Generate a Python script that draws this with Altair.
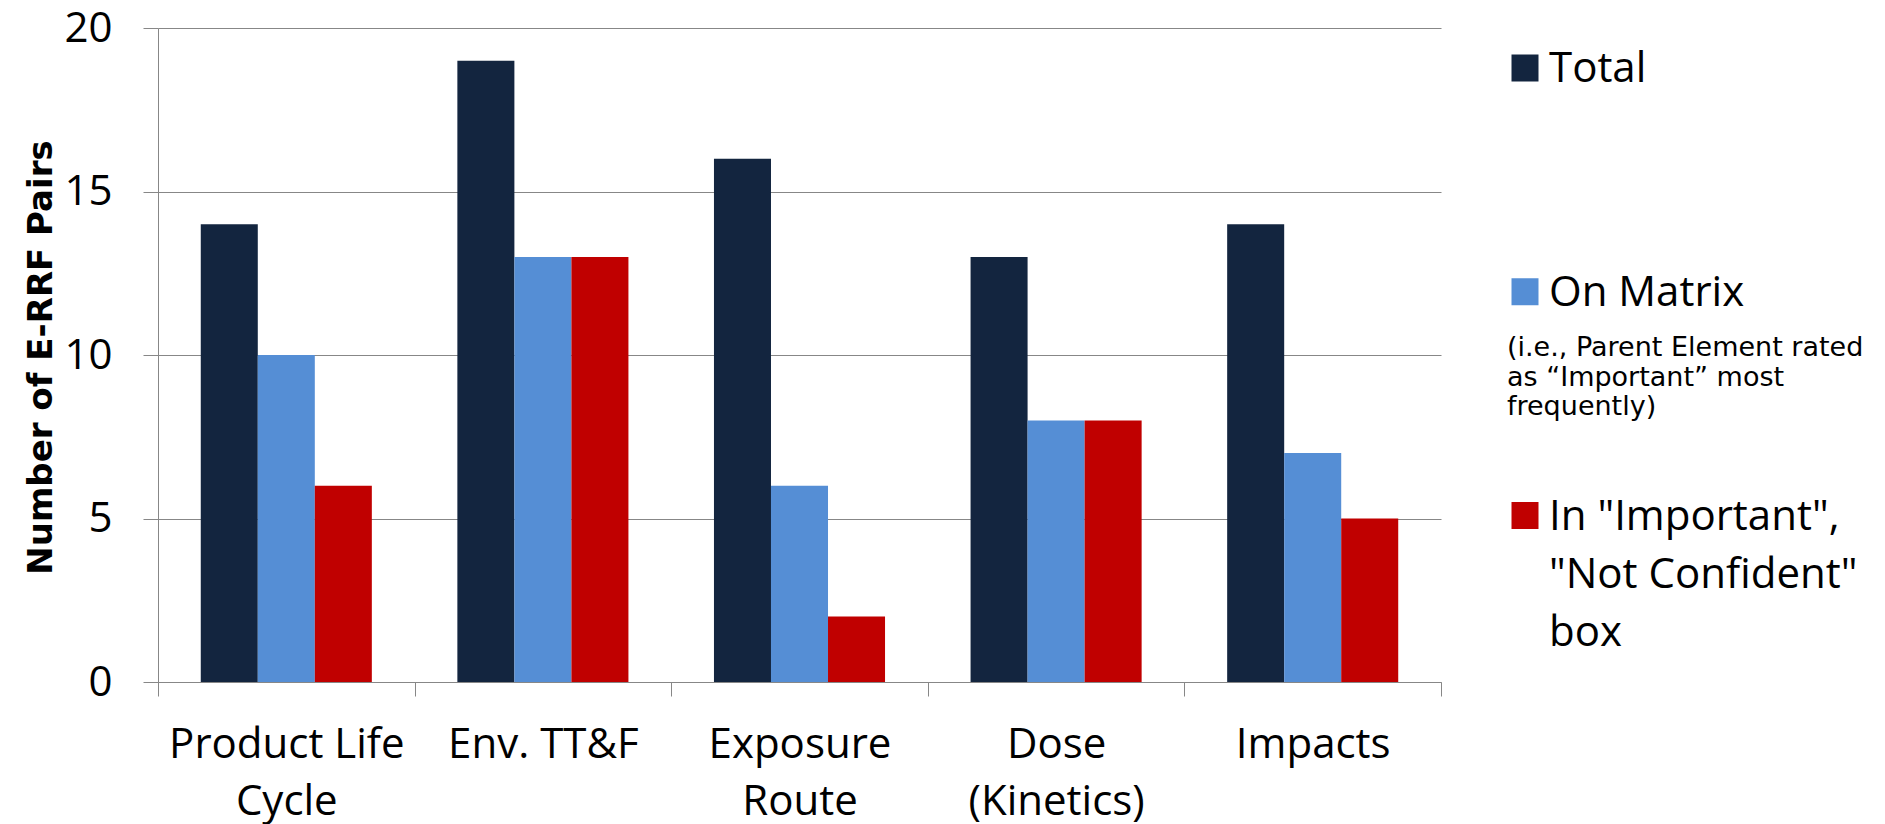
import altair as alt
import pandas as pd

# ---- data ----
categories = ["Product Life|Cycle", "Env. TT&F", "Exposure|Route", "Dose|(Kinetics)", "Impacts"]
series = ["Total", "On Matrix", "In Important"]
total = [14, 19, 16, 13, 14]
on_matrix = [10, 13, 6, 8, 7]
important = [6, 13, 2, 8, 5]
colors = ["#13253F", "#558ED5", "#C00000"]
legend_labels = ["Total", "On Matrix", 'In "Important",|"Not Confident"|box']
note_text = ["(i.e., Parent Element rated|as \u201cImportant\u201d most|frequently)"]
y_ticks = [0, 5, 10, 15, 20]

rows = []
for vals, s in zip([total, on_matrix, important], series):
    for c, v in zip(categories, vals):
        rows.append({"category": c, "series": s, "value": v})
df = pd.DataFrame(rows)
legend_df = pd.DataFrame({"series": series, "label": legend_labels})
note_df = pd.DataFrame({"note": note_text})

GRID = "#878787"
color_scale = alt.Scale(domain=series, range=colors)

bars = alt.Chart(df).mark_bar().encode(
    x=alt.X(
        "category:N",
        sort=categories,
        scale=alt.Scale(paddingInner=0, paddingOuter=0),
        axis=alt.Axis(
            title=None,
            labelExpr="split(datum.label, '|')",
            labelFont="Open Sans",
            labelFontSize=42,
            labelColor="#000000",
            labelAngle=0,
            labelAlign="center",
            labelBaseline="top",
            labelLineHeight=57,
            labelPadding=28,
            labelLimit=0,
            tickBand="extent",
            tickSize=14,
            tickColor=GRID,
            domainColor=GRID,
            grid=False,
        ),
    ),
    xOffset=alt.XOffset(
        "series:N", sort=series, scale=alt.Scale(paddingInner=0, paddingOuter=0.75)
    ),
    y=alt.Y(
        "value:Q",
        scale=alt.Scale(domain=[0, 20], nice=False),
        axis=alt.Axis(
            title="Number of E-RRF Pairs",
            titleFont="DejaVu Sans",
            titleFontWeight="bold",
            titleFontSize=34,
            titleColor="#000000",
            titleAngle=270,
            titleAlign="center",
            titleBaseline="alphabetic",
            titleX=-107,
            titleY=329,
            values=y_ticks,
            labelFont="Open Sans",
            labelFontSize=42,
            labelColor="#000000",
            labelPadding=31,
            tickSize=15,
            tickColor=GRID,
            domainColor=GRID,
            gridColor=GRID,
            gridWidth=1,
        ),
    ),
    color=alt.Color("series:N", scale=color_scale, legend=None),
)

legend_y = alt.Y(
    "series:N",
    sort=series,
    scale=alt.Scale(type="point", domain=series, range=[40, 487.5], padding=0),
    axis=None,
)

legend_squares = alt.Chart(legend_df).mark_square(size=729, opacity=1).encode(
    x=alt.value(1367),
    y=legend_y,
    color=alt.Color("series:N", scale=color_scale, legend=None),
)

legend_text = alt.Chart(legend_df).mark_text(
    align="left",
    baseline="top",
    dy=-19,
    font="Open Sans",
    fontSize=42,
    lineBreak="|",
    lineHeight=58,
    color="#000000",
).encode(
    x=alt.value(1391),
    y=legend_y,
    text="label:N",
)

note = alt.Chart(note_df).mark_text(
    align="left",
    baseline="top",
    font="DejaVu Sans",
    fontSize=27,
    lineBreak="|",
    lineHeight=29.5,
    color="#000000",
).encode(
    x=alt.value(1349),
    y=alt.value(307),
    text="note:N",
)

chart = (
    alt.layer(bars, legend_squares, legend_text, note)
    .resolve_scale(y="independent")
    .properties(
        width=1283,
        height=654,
        autosize=alt.AutoSizeParams(type="none"),
        padding={"left": 150, "top": 20, "right": 436, "bottom": 142},
        background="#FFFFFF",
    )
    .configure_view(stroke=None)
)

chart.save("out.html", embed_options={"renderer": "svg", "actions": False})
